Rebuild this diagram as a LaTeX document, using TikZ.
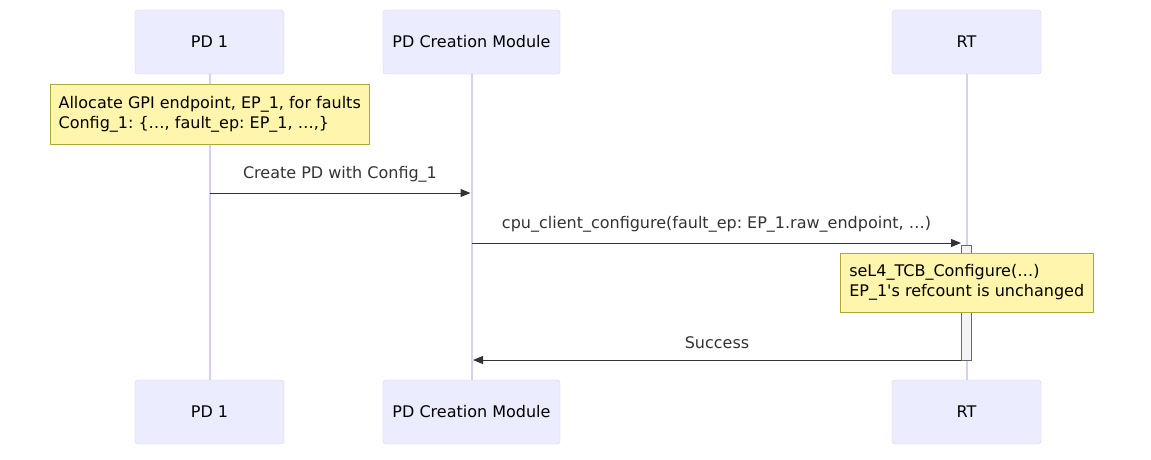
\documentclass[tikz,border=0pt]{standalone}
\usepackage{fontspec}
\setmainfont{DejaVu Sans}
\usetikzlibrary{arrows.meta,positioning}

\definecolor{actorFill}{HTML}{ECECFF}
\definecolor{actorLine}{HTML}{D9CEF3}
\definecolor{noteFill}{HTML}{FFF5AD}
\definecolor{noteLine}{HTML}{AAAA33}
\definecolor{actFill}{HTML}{F4F4F4}
\definecolor{actLine}{HTML}{666666}
\definecolor{msgLine}{HTML}{333333}

\begin{document}
\frenchspacing
\begin{tikzpicture}[
      x=1pt, y=-1pt,
      actor/.style={draw=actorLine, fill=actorFill, rounded corners=3pt,
        minimum width=149pt, minimum height=64pt, inner sep=0pt,
        font=\fontsize{16}{20}\selectfont},
      note/.style={draw=noteLine, fill=noteFill, align=left, anchor=north west,
        inner sep=0pt, font=\fontsize{16}{20}\selectfont},
      activation/.style={draw=actLine, fill=actFill, minimum width=10pt,
        inner sep=0pt},
      lifeline/.style={draw=actorLine, line width=2pt},
      msg/.style={-{Triangle[length=10pt,width=8pt]}, draw=msgLine, line width=1pt},
      msglabel/.style={text=msgLine, font=\fontsize{16}{20}\selectfont,
        midway, yshift=19pt}
    ]
    \path[use as bounding box, fill=white] (0,0) rectangle (1151,459);

    % participants
    \node[actor] (pdTop) at (209.5,42) {PD 1};
    \node[actor, minimum width=177pt] (pdCreationTop) at (471.5,42) {PD Creation Module};
    \node[actor] (rtTop) at (966.5,42) {RT};

    \node[actor] (pdBottom) at (209.5,412) {PD 1};
    \node[actor, minimum width=177pt] (pdCreationBottom) at (471.5,412) {PD Creation Module};
    \node[actor] (rtBottom) at (966.5,412) {RT};

    \draw[lifeline] (pdTop) -- (pdBottom);
    \draw[lifeline] (pdCreationTop) -- (pdCreationBottom);
    \draw[lifeline] (rtTop) -- (rtBottom);

    \node[note, minimum width=319pt, minimum height=60pt] (allocNote) at (50,84)
      {Allocate GPI endpoint, EP\_1, for faults\\Config\_1: \{…, fault\_ep: EP\_1, …,\}};

    % messages
    \coordinate (createStart) at (209.5,193);
    \coordinate (createEnd) at (470.5,193);
    \draw[msg] (createStart) -- node[msglabel] {Create PD with Config\_1} (createEnd);

    \node[activation, minimum height=115pt] (rtAct) at (966,302.5) {};

    \coordinate (configStart) at (472,243);
    \coordinate (configEnd) at (961,243);
    \draw[msg] (configStart) -- node[msglabel]
      {cpu\_client\_configure(fault\_ep: EP\_1.raw\_endpoint, …)} (configEnd);

    \node[note, minimum width=253pt, minimum height=59pt] (tcbNote) at (840,253)
      {seL4\_TCB\_Configure(…)\\EP\_1\textquotesingle s refcount is unchanged};

    \coordinate (successStart) at (961,360);
    \coordinate (successEnd) at (473,360);
    \draw[msg] (successStart) -- node[msglabel, yshift=-2pt] {Success} (successEnd);
  \end{tikzpicture}
\end{document}
